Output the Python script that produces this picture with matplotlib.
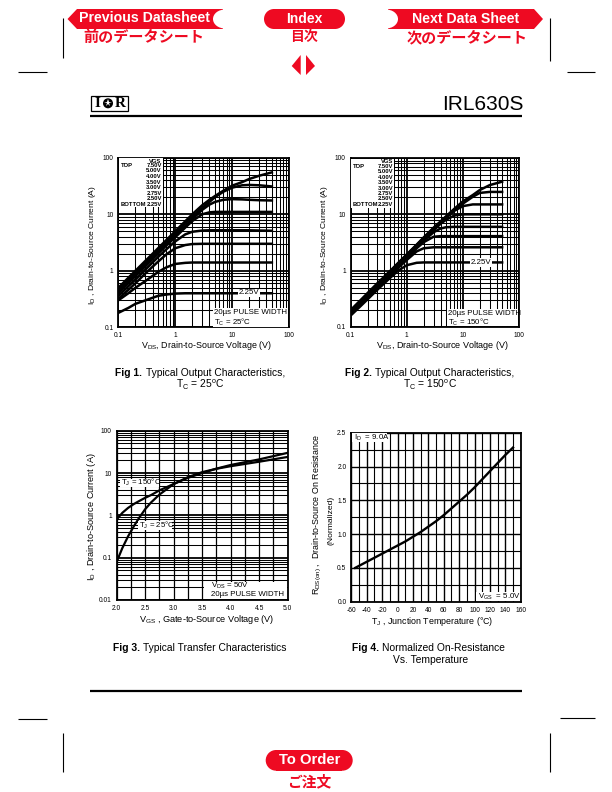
import matplotlib
matplotlib.use('Agg')
import matplotlib.pyplot as plt
from matplotlib.patches import Polygon, Rectangle, Ellipse
from matplotlib.ticker import NullFormatter

plt.rcParams['font.family'] = ['Liberation Sans', 'DejaVu Sans']
plt.rcParams['mathtext.fontset'] = 'custom'
plt.rcParams['mathtext.rm'] = 'Liberation Sans'
plt.rcParams['mathtext.default'] = 'regular'
plt.rcParams['axes.unicode_minus'] = False

W, H = 612, 792
RED = '#ee0a22'

vgs_labels = ['7.50V', '5.00V', '4.00V', '3.50V', '3.00V', '2.75V', '2.50V', '2.25V']

# fig 1, Tc = 25C
vds = [0.1, 0.15, 0.2, 0.3, 0.5, 0.7, 1, 1.5, 2, 3, 4, 5, 7, 10, 15, 20, 30, 50]
id_25 = [
    [.50, .75, 1.0, 1.5, 2.5, 3.5, 5, 7.5, 10, 14.5, 18, 21, 26, 32, 37, 42, 48, 55],
    [.46, .69, .92, 1.38, 2.3, 3.2, 4.6, 6.9, 9, 13, 16.5, 20, 25, 29.5, 32.5, 33, 32.5, 31],
    [.43, .65, .86, 1.3, 2.1, 3, 4.2, 6.2, 8.2, 12, 14.8, 16.5, 18, 18.5, 18.3, 18, 17.7, 17.5],
    [.40, .60, .80, 1.2, 2, 2.8, 3.9, 5.8, 7.6, 10, 10.8, 11, 11, 11, 11, 11, 11, 11],
    [.36, .53, .70, 1.05, 1.75, 2.4, 3.3, 4.4, 4.9, 5.15, 5.2, 5.2, 5.2, 5.2, 5.2, 5.2, 5.15, 5.1],
    [.32, .46, .60, .90, 1.45, 1.95, 2.5, 2.85, 2.97, 3, 3, 3, 3, 3, 3, 3, 3, 3],
    [.30, .40, .50, .66, .95, 1.15, 1.32, 1.38, 1.4, 1.4, 1.4, 1.4, 1.4, 1.4, 1.4, 1.4, 1.4, 1.4],
    [.18, .22, .26, .30, .36, .38, .395, .4, .4, .4, .4, .4, .4, .4, .4, .4, .4, .4],
]

# fig 2, Tc = 150C
id_150 = [
    [.20, .30, .40, .60, .98, 1.37, 1.95, 2.9, 3.9, 5.8, 7.5, 9.2, 12.5, 17, 22, 27, 33, 38],
    [.195, .29, .39, .58, .96, 1.34, 1.9, 2.85, 3.8, 5.6, 7.3, 9, 12, 15.5, 20.5, 24, 25, 25],
    [.19, .285, .38, .57, .93, 1.3, 1.85, 2.75, 3.7, 5.4, 7, 8.6, 11.5, 14, 15, 15, 15, 15],
    [.185, .275, .37, .55, .90, 1.26, 1.8, 2.7, 3.6, 5.2, 6.8, 8, 9.5, 10, 10, 10, 10, 10],
    [.18, .265, .35, .53, .87, 1.22, 1.72, 2.6, 3.4, 4.8, 5.6, 5.9, 6, 6, 6, 6, 6, 6],
    [.175, .26, .34, .51, .84, 1.18, 1.65, 2.5, 3.2, 4, 4.1, 4.1, 4.1, 4.1, 4.1, 4.1, 4.1, 4.1],
    [.17, .25, .33, .49, .80, 1.12, 1.55, 2.2, 2.5, 2.6, 2.6, 2.6, 2.6, 2.6, 2.6, 2.6, 2.6, 2.6],
    [.16, .235, .31, .46, .74, 1, 1.25, 1.38, 1.4, 1.4, 1.4, 1.4, 1.4, 1.4, 1.4, 1.4, 1.4, 1.4],
]

# fig 3
vgs = [2.0, 2.1, 2.2, 2.3, 2.4, 2.5, 2.6, 2.75, 3.0, 3.25, 3.5, 3.75, 4.0, 4.5, 5.0]
id_tj150 = [.8, 1.15, 1.5, 1.85, 2.2, 2.6, 3.0, 3.9, 5.5, 7.7, 10, 12.7, 15.5, 21, 30]
id_tj25 = [.08, .17, .32, .55, .9, 1.4, 2.0, 3.1, 5.5, 8, 10.5, 12.6, 14.5, 18.5, 24]

# fig 4
tj = [-55, -50, -40, -30, -20, -10, 0, 10, 20, 30, 40, 50, 60, 70, 80, 90, 100, 110, 120, 130, 140, 150]
rds_norm = [.5, .53, .59, .65, .71, .77, .83, .89, .96, 1.03, 1.11, 1.19, 1.28, 1.38, 1.48, 1.58, 1.69, 1.81,
            1.93, 2.05, 2.17, 2.28]

log_ticks = [0.1, 1, 10, 100]
log_labels = ['0.1', '1', '10', '100']
transfer_yticks = [0.01, 0.1, 1, 10, 100]
transfer_ylabels = ['0.01', '0.1', '1', '10', '100']
vgs_ticks = [2.0, 2.5, 3.0, 3.5, 4.0, 4.5, 5.0]
temp_ticks = [-60, -40, -20, 0, 20, 40, 60, 80, 100, 120, 140, 160]
rds_ticks = [0.0, 0.5, 1.0, 1.5, 2.0, 2.5]


def make_axes(fig, left, top, right, bottom):
    ax = fig.add_axes([left / W, 1 - bottom / H, (right - left) / W, (bottom - top) / H])
    for s in ax.spines.values():
        s.set_linewidth(1.3)
    ax.tick_params(which='both', length=0, labelsize=4.8, pad=3.5)
    return ax


def log_grid(ax, xlog=True):
    ax.set_yscale('log')
    if xlog:
        ax.set_xscale('log')
    ax.grid(True, which='major', color='black', linewidth=1.3, zorder=1)
    ax.grid(True, which='minor', color='black', linewidth=0.75, zorder=1)
    ax.xaxis.set_minor_formatter(NullFormatter())
    ax.yaxis.set_minor_formatter(NullFormatter())
    ax.set_axisbelow(True)


def output_chart(fig, box, x, curves):
    ax = make_axes(fig, *box)
    log_grid(ax)
    for c in curves:
        ax.plot(x, c, color='black', linewidth=1.8, zorder=2)
    ax.set_xlim(0.1, 100)
    ax.set_ylim(0.1, 100)
    ax.set_xticks(log_ticks)
    ax.set_xticklabels(log_labels)
    ax.set_yticks(log_ticks)
    ax.set_yticklabels(log_labels)
    return ax


fig = plt.figure(figsize=(W / 100, H / 100), dpi=100)

ax1 = output_chart(fig, (118.3, 157.7, 289, 327.3), vds, id_25)
ax2 = output_chart(fig, (350.7, 158, 519, 327), vds, id_150)

ax3 = make_axes(fig, 116.7, 430.7, 287.7, 600)
log_grid(ax3, xlog=False)
ax3.grid(True, which='major', axis='x', color='black', linewidth=0.9)
ax3.set_xticks([2.25, 2.75, 3.25, 3.75, 4.25, 4.75], minor=True)
ax3.grid(True, which='minor', axis='x', color='black', linewidth=0.9)
ax3.plot(vgs, id_tj150, color='black', linewidth=1.6, zorder=2)
ax3.plot(vgs, id_tj25, color='black', linewidth=1.6, zorder=2)
ax3.set_xlim(2, 5)
ax3.set_ylim(0.01, 100)
ax3.set_xticks(vgs_ticks)
ax3.set_yticks(transfer_yticks)
ax3.set_yticklabels(transfer_ylabels)
ax3.set_xticklabels(['%.1f' % v for v in vgs_ticks])

ax4 = make_axes(fig, 351.3, 432.7, 520.7, 601.7)
ax4.set_xticks(temp_ticks)
ax4.set_xticks([t + 10 for t in temp_ticks[:-1]], minor=True)
ax4.set_yticks(rds_ticks)
ax4.set_yticks([r + 0.25 for r in rds_ticks[:-1]], minor=True)
ax4.grid(True, which='major', color='black', linewidth=1.0, zorder=1)
ax4.grid(True, which='minor', color='black', linewidth=0.8, zorder=1)
ax4.set_axisbelow(True)
ax4.plot(tj, rds_norm, color='black', linewidth=1.7, zorder=2)
ax4.set_xlim(-60, 160)
ax4.set_ylim(0, 2.5)
ax4.set_yticklabels(['%.1f' % r for r in rds_ticks])

# page layer in pixel coords, top left origin
pg = fig.add_axes([0, 0, 1, 1], zorder=10)
pg.set_xlim(0, W)
pg.set_ylim(H, 0)
pg.axis('off')
pg.patch.set_alpha(0)


def txt(x, y, s, size=5, ha='left', rot=0, **kw):
    pg.text(x, y, s, fontsize=size, ha=ha, va='center', rotation=rot, zorder=6, **kw)


def white_box(x0, y0, x1, y1):
    pg.add_patch(Rectangle((x0, y0), x1 - x0, y1 - y0, facecolor='white', edgecolor='none', zorder=4))


def line(x0, y0, x1, y1, lw=0.8):
    pg.plot([x0, x1], [y0, y1], color='black', linewidth=lw, solid_capstyle='butt', zorder=3)


def red_pill(x0, x1, y0, y1):
    r = (y1 - y0) / 2
    pg.add_patch(Rectangle((x0 + r, y0), x1 - x0 - 2 * r, y1 - y0, facecolor=RED, edgecolor='none', zorder=2))
    pg.add_patch(Ellipse((x0 + r, y0 + r), 2 * r, 2 * r, facecolor=RED, edgecolor='none', zorder=2))
    pg.add_patch(Ellipse((x1 - r, y0 + r), 2 * r, 2 * r, facecolor=RED, edgecolor='none', zorder=2))


# crop marks
line(18, 72, 47, 72)
line(567, 72, 595, 72)
line(18, 719, 47, 719)
line(560, 718, 595, 718)
line(62.7, 18, 62.7, 58)
line(550.3, 18, 550.3, 61)
line(62.7, 733, 62.7, 772)
line(550.3, 733, 550.3, 772)

# header buttons
pg.add_patch(Polygon([(67.5, 19), (77, 9), (223, 9), (223, 29), (77, 29)], facecolor=RED, edgecolor='none', zorder=2))
pg.add_patch(Ellipse((225, 19), 24, 19, facecolor='white', edgecolor='none', zorder=3))
pg.add_patch(Polygon([(388, 9), (534, 9), (543, 19), (534, 29), (388, 29)], facecolor=RED, edgecolor='none', zorder=2))
pg.add_patch(Ellipse((386, 19), 24, 19, facecolor='white', edgecolor='none', zorder=3))
red_pill(264, 345, 9, 29)
pg.add_patch(Polygon([(291.7, 66), (300.7, 55), (300.7, 75)], facecolor=RED, edgecolor='none'))
pg.add_patch(Polygon([(315, 66), (306, 55), (306, 75)], facecolor=RED, edgecolor='none'))
txt(144, 18, 'Previous Datasheet', 10.2, 'center', color='white', fontweight='bold')
txt(304.5, 19, 'Index', 10, 'center', color='white', fontweight='bold')
txt(466, 19, 'Next Data Sheet', 10.2, 'center', color='white', fontweight='bold')
cjk = ['Noto Sans CJK JP', 'DejaVu Sans']
txt(143.5, 37, '前のデータシート', 10.9, 'center', color=RED, fontweight='bold', family=cjk)
txt(303.5, 37, '目次', 10, 'center', color=RED, fontweight='bold', family=cjk)
txt(467, 37, '次のデータシート', 10.9, 'center', color=RED, fontweight='bold', family=cjk)

# order button
red_pill(265.7, 352.7, 750, 770.7)
txt(309.5, 760.5, 'To Order', 10.6, 'center', color='white', fontweight='bold')
txt(309, 781, 'ご注文', 10.6, 'center', color=RED, fontweight='bold', family=cjk)

# page head / foot
line(90, 116, 522, 116, 1.6)
line(90, 691, 522, 691, 1.6)
pg.add_patch(Rectangle((90.5, 95.5), 37, 15.5, facecolor='white', edgecolor='black', linewidth=0.9))
txt(97, 103.3, 'I', 11, 'center', family='Liberation Serif', fontweight='bold')
pg.add_patch(Ellipse((108, 103.3), 10, 10, facecolor='black', edgecolor='none', zorder=5))
pg.plot([108], [103.3], marker='*', markersize=5.5, color='white', markeredgewidth=0, zorder=6)
txt(120, 103.3, 'R', 11, 'center', family='Liberation Serif', fontweight='bold')
txt(524, 105, 'IRL630S', 15, 'right')

# fig 1 annotations
white_box(118.9, 158.3, 162.7, 207)
txt(161.7, 161.3, 'VGS', 4.2, 'right', fontweight='bold')
for yy, lab in zip([165.7, 171, 177, 182.7, 187.7, 193.3, 198.7, 204], vgs_labels):
    txt(161.7, yy, lab, 4.2, 'right', fontweight='bold')
txt(121, 165.7, 'TOP', 4.2, fontweight='bold')
txt(121, 204, 'BOTTOM', 4.2, fontweight='bold')
white_box(213, 308, 288.4, 326.7)
txt(214, 313, '20µs PULSE WIDTH', 5.7)
txt(214, 322, r'T$_C$ = 25°C', 5.7)
white_box(238, 288.5, 260, 297)
txt(249, 292.7, '2.25V', 5.7, 'center')

# fig 2 annotations
white_box(351.3, 158.6, 394, 208)
txt(393, 161.3, 'VGS', 4.2, 'right', fontweight='bold')
for yy, lab in zip([166.7, 171.7, 177.7, 183, 188.3, 193.7, 199, 205], vgs_labels):
    txt(393, yy, lab, 4.2, 'right', fontweight='bold')
txt(353, 166.7, 'TOP', 4.2, fontweight='bold')
txt(353, 205, 'BOTTOM', 4.2, fontweight='bold')
white_box(447, 309, 518.4, 326.4)
txt(448.5, 313.5, '20µs PULSE WIDTH', 5.7)
txt(448.5, 322, r'T$_C$ = 150°C', 5.7)
white_box(470, 258, 491.5, 266.5)
txt(480.7, 262.3, '2.25V', 5.7, 'center')

# fig 3 annotations
white_box(120, 478.5, 158.5, 487)
txt(121, 482.7, r'T$_J$ = 150°C', 5.7)
white_box(138, 521, 172, 529.5)
txt(139, 525, r'T$_J$ = 25°C', 5.7)
white_box(204, 582, 287, 599.4)
txt(211, 586, r'V$_{DS}$ = 50V', 5.7)
txt(211, 594.7, '20µs PULSE WIDTH', 5.7)

# fig 4 annotations
white_box(352, 433.4, 387, 442)
txt(354, 437.5, r'I$_D$  = 9.0A', 5.7)
white_box(476, 592, 520, 601)
txt(477.5, 596.5, r'V$_{GS}$  = 5.0V', 5.7)

# axis titles
txt(206, 346, r'V$_{DS}$, Drain-to-Source Voltage (V)', 6.4, 'center')
txt(442, 346, r'V$_{DS}$, Drain-to-Source Voltage (V)', 6.5, 'center')
txt(207, 619, r'V$_{GS}$ , Gate-to-Source Voltage (V)', 6.6, 'center')
txt(432, 621, r'T$_J$ , Junction Temperature (°C)', 6.4, 'center')
txt(93, 245, r'I$_D$ , Drain-to-Source Current (A)', 6.1, 'center', rot=90)
txt(324, 245, r'I$_D$ , Drain-to-Source Current (A)', 6.1, 'center', rot=90)
txt(92, 517, r'I$_D$ , Drain-to-Source Current (A)', 6.6, 'center', rot=90)
txt(317, 514, r'R$_{DS(on)}$ ,  Drain-to-Source On Resistance', 6.4, 'center', rot=90)
txt(331, 520, '(Normalized)', 6.1, 'center', rot=90)

# captions
txt(115, 373, 'Fig 1.', 7.4, fontweight='bold')
txt(146, 373, 'Typical Output Characteristics,', 7.4)
txt(200, 385, r'T$_C$ = 25$^o$C', 7.4, 'center')
txt(345, 373, 'Fig 2.', 7.4, fontweight='bold')
txt(375, 373, 'Typical Output Characteristics,', 7.4)
txt(430, 385, r'T$_C$ = 150$^o$C', 7.4, 'center')
txt(113, 648, 'Fig 3.', 7.4, fontweight='bold')
txt(143, 648, 'Typical Transfer Characteristics', 7.4)
txt(352, 648, 'Fig 4.', 7.4, fontweight='bold')
txt(382, 648, 'Normalized On-Resistance', 7.4)
txt(431, 660, 'Vs. Temperature', 7.4, 'center')

fig.savefig('out.png', dpi=100)
